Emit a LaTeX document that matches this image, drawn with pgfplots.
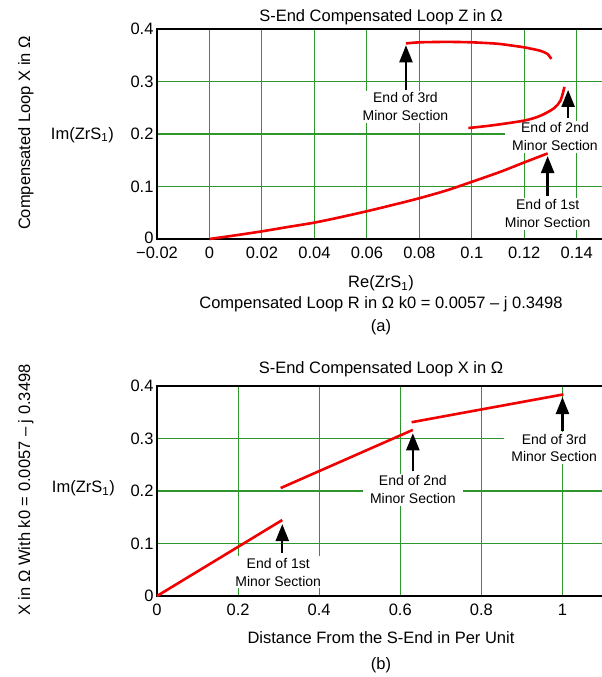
\documentclass[border=0pt]{standalone}
\usepackage{fontspec}
\setmainfont{Liberation Sans}
\usepackage{pgfplots}
\pgfplotsset{compat=1.18}
\usetikzlibrary{arrows.meta}
\definecolor{gridgreen}{RGB}{45,150,45}
\definecolor{curvered}{RGB}{240,0,0}
\newcommand{\bigfont}{\fontsize{16.5bp}{19bp}\selectfont}
\newcommand{\annfont}{\fontsize{14bp}{17.7bp}\selectfont}
\pgfplotsset{
  panel/.style={scale only axis, width=446bp, height=210bp,
    ymin=0, ymax=0.4, ytick={0,0.1,0.2,0.3,0.4}, yticklabels={0,0.1,0.2,0.3,0.4},
    grid=major, major grid style={gridgreen, line width=1.1bp},
    major tick length=0pt, axis line style={line width=1.8bp},
    tick label style={font=\bigfont},
    yticklabel style={inner ysep=0.5bp},
    xticklabel style={inner ysep=1bp, yshift=-6.5bp}, clip=false},
  curve/.style={curvered, line width=2.6bp, no marks},
}
\tikzset{
  arr/.style={line width=2.3bp, -{Triangle[width=13bp,length=17bp]}},
  ann/.style={fill=white, inner xsep=7bp, inner ysep=2bp, align=center, font=\annfont},
}
\begin{document}
\begin{tikzpicture}
\useasboundingbox (0,0) rectangle (602bp,677bp);
% ---------------- (a) ----------------
\begin{axis}[panel, at={(157bp,438bp)}, anchor=south west,
  xmin=-0.02, xmax=0.15,
  yticklabels={\raisebox{2.5bp}{0},0.1,0.2,0.3,0.4},
  xtick={-0.02,0,0.02,0.04,0.06,0.08,0.1,0.12,0.14},
  xticklabels={−0.02,0,0.02,0.04,0.06,0.08,0.1,0.12,0.14}]
\node[ann] at (axis cs:0.1289,0.048) {End of 1st\\Minor Section};
\node[ann] at (axis cs:0.1317,0.195) {End of 2nd\\Minor Section};
\node[ann] at (axis cs:0.0747,0.252) {End of 3rd\\Minor Section};
\addplot[curve, smooth] coordinates {(0,0) (0.0091,0.0064) (0.02,0.0146) (0.0299,0.0229) (0.04,0.0312) (0.0498,0.0414) (0.06,0.0529) (0.07,0.065) (0.08,0.0777) (0.0903,0.0924) (0.1,0.1089) (0.1109,0.128) (0.12,0.1459) (0.1289,0.163)};
\addplot[curve, smooth] coordinates {(0.0987,0.2114) (0.108,0.2166) (0.12,0.2256) (0.1261,0.2347) (0.1312,0.2486) (0.1338,0.2637) (0.1353,0.2897)};
\addplot[curve, smooth] coordinates {(0.0749,0.3725) (0.08,0.3746) (0.0904,0.3754) (0.1,0.3746) (0.1096,0.372) (0.1159,0.368) (0.12,0.365) (0.1235,0.3615) (0.1261,0.3585) (0.1287,0.353) (0.1303,0.343)};
\draw[arr] (axis cs:0.1289,0.082) -- (axis cs:0.1289,0.158);
\draw[arr] (axis cs:0.1367,0.231) -- (axis cs:0.1367,0.284);
\draw[arr] (axis cs:0.0749,0.283) -- (axis cs:0.0749,0.369);
\end{axis}
% ---------------- (b) ----------------
\begin{axis}[panel, at={(157bp,81bp)}, anchor=south west,
  xmin=0, xmax=1.1,
  xtick={0,0.2,0.4,0.6,0.8,1},
  xticklabels={0,0.2,0.4,0.6,0.8,1}]
\node[ann] at (axis cs:0.299,0.045) {End of 1st\\Minor Section};
\node[ann] at (axis cs:0.631,0.2025) {End of 2nd\\Minor Section};
\node[ann] at (axis cs:0.9795,0.282) {End of 3rd\\Minor Section};
\addplot[curve] coordinates {(0,0) (0.309,0.1447)};
\addplot[curve] coordinates {(0.305,0.2056) (0.631,0.3164)};
\addplot[curve] coordinates {(0.628,0.331) (1.0025,0.384)};
\draw[arr] (axis cs:0.309,0.081) -- (axis cs:0.309,0.137);
\draw[arr] (axis cs:0.631,0.2377) -- (axis cs:0.631,0.31);
\draw[arr] (axis cs:1.0,0.315) -- (axis cs:1.0,0.379);
\end{axis}
% ---------------- texts ----------------
\node[font=\bigfont, anchor=base] at (381bp,655.3bp) {S-End Compensated Loop Z in Ω};
\node[font=\bigfont, anchor=base, rotate=90] at (30bp,544bp) {Compensated Loop X in Ω};
\node[font=\bigfont, anchor=base east, inner sep=0pt] at (114bp,537.7bp) {Im(ZrS\textsubscript{1})};
\node[font=\bigfont, anchor=base] at (381bp,389bp) {Re(ZrS\textsubscript{1})};
\node[font=\bigfont, anchor=base] at (381bp,368.7bp) {Compensated Loop R in Ω k0 = 0.0057 – j 0.3498};
\node[font=\bigfont, anchor=base] at (381bp,345.4bp) {(a)};
\node[font=\bigfont, anchor=base] at (381bp,303.7bp) {S-End Compensated Loop X in Ω};
\node[font=\bigfont, anchor=base, rotate=90] at (30bp,187bp) {X in Ω With k0 = 0.0057 – j 0.3498};
\node[font=\bigfont, anchor=base east, inner sep=0pt] at (115bp,184.3bp) {Im(ZrS\textsubscript{1})};
\node[font=\bigfont, anchor=base] at (381bp,33.7bp) {Distance From the S-End in Per Unit};
\node[font=\bigfont, anchor=base] at (381bp,7.7bp) {(b)};
\end{tikzpicture}
\end{document}
